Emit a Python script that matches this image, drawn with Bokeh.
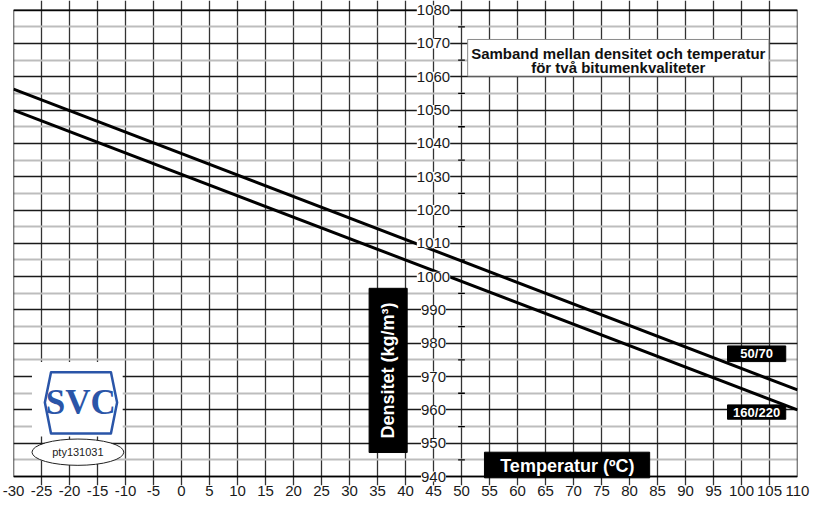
from math import pi
from bokeh.plotting import figure
from bokeh.models import FixedTicker, LabelSet, ColumnDataSource, Range1d
from bokeh.core.properties import value
from bokeh.embed import file_html
from bokeh.resources import INLINE

# ---- data ----
temps = [-30, 110]
dens_5070 = [1056.3, 966.0]
dens_160220 = [1050.0, 960.0]
series_names = ["50/70", "160/220"]
x_ticks = list(range(-30, 111, 5))
y_ticks = list(range(940, 1081, 10))
y_minor = list(range(945, 1080, 10))
title_lines = ["Samband mellan densitet och temperatur", "för två bitumenkvaliteter"]
x_title = "Temperatur (ºC)"
y_title = "Densitet (kg/m³)"
stamp = "pty131031"
logo_text = "SVC"

FONT = "Liberation Sans"
XMIN, XMAX = x_ticks[0], x_ticks[-1]
YMIN, YMAX = y_ticks[0], y_ticks[-1]

# the frame is a little taller than the grid so that the inner axis labels at
# the top and bottom are not clipped
p = figure(width=811, height=503, x_range=Range1d(XMIN, XMAX),
           y_range=Range1d(YMIN - 2.7, YMAX + 2.9),
           output_backend="svg", toolbar_location=None, y_axis_location=None,
           min_border_left=13, min_border_right=14, min_border_top=0, min_border_bottom=18)
p.outline_line_color = None
p.background_fill_color = "white"
p.border_fill_color = "white"

# x axis (labels only; line and ticks drawn by grid/frame)
p.xaxis.ticker = FixedTicker(ticks=x_ticks)
p.xaxis.major_label_overrides = {t: str(t) for t in x_ticks}
p.xaxis.major_label_text_font = FONT
p.xaxis.major_label_text_font_size = "15px"
p.xaxis.major_label_text_color = "#1a1a1a"
p.xaxis.major_tick_in = 0
p.xaxis.major_tick_out = 0
p.xaxis.minor_tick_in = 0
p.xaxis.minor_tick_out = 0
p.xaxis.axis_line_color = None
p.xaxis.major_label_standoff = 0

# grids
p.xgrid.ticker = FixedTicker(ticks=x_ticks)
p.xgrid.grid_line_color = "#333333"
p.xgrid.grid_line_width = 1.3
p.xgrid.bounds = (YMIN - 1.0, YMAX)
p.ygrid.ticker = FixedTicker(ticks=y_ticks, minor_ticks=y_minor)
p.ygrid.grid_line_color = "#1a1a1a"
p.ygrid.grid_line_width = 1.3
p.ygrid.minor_grid_line_color = "#bdbdbd"
p.ygrid.minor_grid_line_width = 2
p.ygrid.bounds = (XMIN, XMAX)

# series lines
p.line(temps, dens_5070, line_width=3, line_color="black")
p.line(temps, dens_160220, line_width=3, line_color="black")

# plot border
p.quad(left=XMIN, right=XMAX, top=YMAX, bottom=YMIN, fill_color=None,
       line_color="black", line_width=1.4)

# minor tick stubs next to the inner density axis
p.segment(x0=49.4, x1=50.6, y0=y_minor, y1=y_minor, line_color="black", line_width=1.3)

# title box
p.quad(left=51.1, right=104.9, top=1071.2, bottom=1060.2, fill_color="white",
       line_color="#8a8a8a", line_width=1)
p.text(x=[78.0, 78.0], y=[1067.1, 1062.7], text=title_lines, text_font=value(FONT),
       text_font_style="bold", text_font_size="15px", text_align="center",
       text_baseline="middle", text_color="#111111")

# y title box
p.quad(left=33.5, right=40.3, top=996.5, bottom=947.2, fill_color="black", line_color="black")
p.text(x=[36.9], y=[971.8], text=[y_title], angle=pi / 2, text_font=value(FONT),
       text_font_style="bold", text_font_size="18px", text_align="center",
       text_baseline="middle", text_color="white")

# x title box
p.quad(left=54.1, right=83.6, top=947.3, bottom=939.6, fill_color="black", line_color="black")
p.text(x=[68.9], y=[943.2], text=[x_title], text_font=value(FONT),
       text_font_style="bold", text_font_size="18px", text_align="center",
       text_baseline="middle", text_color="white")

# series name boxes
p.quad(left=[97.5, 97.5], right=[107.9, 107.9], top=[979.2, 961.5], bottom=[974.5, 957.2],
       fill_color="black", line_color="black")
p.text(x=[102.7, 102.7], y=[976.85, 959.35], text=series_names, text_font=value(FONT),
       text_font_style="bold", text_font_size="13px", text_align="center",
       text_baseline="middle", text_color="white")

# logo
p.quad(left=-26.7, right=-10.5, top=974.4, bottom=952.0, fill_color="white", line_color=None)
p.patch(x=[-23.3, -12.6, -11.5, -12.6, -23.3, -24.4],
        y=[971.3, 971.3, 962.2, 952.9, 952.9, 962.2],
        fill_color="white", line_color="#2a55a8", line_width=2.5, line_join="round")
p.text(x=[-18.0], y=[962.1], text=[logo_text], text_font=value("Liberation Serif"),
       text_font_style="bold", text_font_size="35px", text_align="center",
       text_baseline="middle", text_color="#2a55a8")
p.ellipse(x=-18.5, y=947.3, width=16.4, height=7.9, fill_color="white",
          line_color="#222222", line_width=1)
p.text(x=[-18.5], y=[947.3], text=[stamp], text_font=value(FONT), text_font_size="11px",
       text_align="center", text_baseline="middle", text_color="#222222")

# inner density axis labels
lab_src = ColumnDataSource(dict(x=[45] * len(y_ticks), y=y_ticks, t=[str(v) for v in y_ticks]))
p.add_layout(LabelSet(x="x", y="y", text="t", source=lab_src, text_align="center",
                      text_baseline="middle", text_font=value(FONT), text_font_size="15px",
                      text_color="#1a1a1a", background_fill_color="white"))

open("out.html", "w").write(file_html(p, INLINE))
